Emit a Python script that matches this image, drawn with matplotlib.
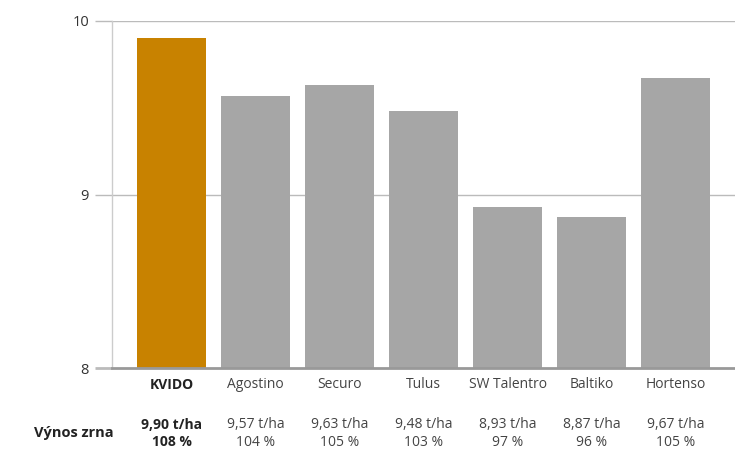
import matplotlib
matplotlib.use("Agg")
import matplotlib.pyplot as plt
import matplotlib.transforms as mtransforms

categories = ["KVIDO", "Agostino", "Securo", "Tulus", "SW Talentro", "Baltiko", "Hortenso"]
values = [9.90, 9.57, 9.63, 9.48, 8.93, 8.87, 9.67]
value_labels = ["9,90 t/ha", "9,57 t/ha", "9,63 t/ha", "9,48 t/ha", "8,93 t/ha", "8,87 t/ha", "9,67 t/ha"]
pct_labels = ["108 %", "104 %", "105 %", "103 %", "97 %", "96 %", "105 %"]
yticks = [8, 9, 10]
row_title = "Výnos zrna"

plt.rcParams['font.family'] = ['Open Sans', 'DejaVu Sans']

fig = plt.figure(figsize=(7.35, 4.5), dpi=100)
ax = fig.add_axes([112/735, 1-368/450, 1-112/735, (368-21)/450])

colors = ["#C88200"] + ["#A6A6A6"] * (len(categories) - 1)
x = list(range(len(categories)))
ax.bar(x, [v - 8 for v in values], bottom=8, width=0.82, color=colors, zorder=2)

ax.set_ylim(8, 10)
ax.set_xlim(-0.708, len(categories) - 1 + 0.708)
ax.set_yticks(yticks)
ax.set_yticklabels([str(t) for t in yticks], fontsize=10.5, color="#333333")
ax.tick_params(axis='y', length=12.5, width=1, color="#BBBBBB", pad=4)
ax.set_xticks([])
for s in ["top", "right", "bottom"]:
    ax.spines[s].set_visible(False)
ax.spines["left"].set_color("#CCCCCC")
ax.spines["left"].set_linewidth(1)
for t in [9, 10]:
    ax.axhline(t, color="#BBBBBB", linewidth=1, zorder=1)
ax.axhline(8, color="#999999", linewidth=2, zorder=3, clip_on=False)
for tl, t in zip(ax.yaxis.get_major_ticks(), yticks):
    if t == 8:
        tl.tick1line.set_color("#999999")
        tl.tick1line.set_markeredgewidth(2)

trans = mtransforms.blended_transform_factory(ax.transData, fig.transFigure)
for i, (c, vl, pl) in enumerate(zip(categories, value_labels, pct_labels)):
    w = "bold" if i == 0 else "normal"
    col = "#222222" if i == 0 else "#444444"
    ax.text(i, 1 - 385/450, c, transform=trans, ha="center", va="center",
            fontsize=10, fontweight=w, color=col)
    ax.text(i, 1 - 425/450, vl, transform=trans, ha="center", va="center",
            fontsize=10, fontweight=w, color=col)
    ax.text(i, 1 - 442/450, pl, transform=trans, ha="center", va="center",
            fontsize=10, fontweight=w, color=col)

fig.text(74/735, 1 - 433/450, row_title, ha="center", va="center",
         fontsize=10.5, fontweight="bold", color="#222222")

fig.savefig("out.png", dpi=100)
